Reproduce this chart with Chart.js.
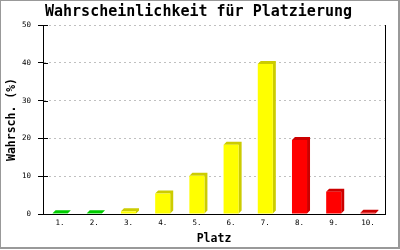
<!DOCTYPE html>
<html>
<head>
<meta charset="utf-8">
<script src="https://cdn.jsdelivr.net/npm/chart.js@4/dist/chart.umd.min.js"></script>
<style>
html,body{margin:0;padding:0;background:#fff;overflow:hidden;}
canvas{display:block;}
</style>
</head>
<body>
<canvas id="c" width="400" height="250"></canvas>
<script>
const categories = ["1.", "2.", "3.", "4.", "5.", "6.", "7.", "8.", "9.", "10."];
const probabilities = [0.2, 0.2, 0.7, 5.4, 10.1, 18.3, 39.7, 19.6, 5.9, 0.3];
const yTicks = [0, 10, 20, 30, 40, 50];
const groups = ["green", "green", "yellow", "yellow", "yellow", "yellow", "yellow", "red", "red", "red"];

const FRONT = {green: "#00ff00", yellow: "#ffff00", red: "#ff0000"};
const SIDE = {green: "#00cc00", yellow: "#cccc00", red: "#cc0000"};
const MONO = "'DejaVu Sans Mono', 'Liberation Mono', monospace";

const bar3d = {
  id: 'bar3d',
  beforeDatasetsDraw(chart) {
    const ctx = chart.ctx;
    const meta = chart.getDatasetMeta(0);
    const d = 3;
    ctx.save();
    meta.data.forEach((bar, i) => {
      const p = bar.getProps(['x', 'y', 'base', 'width'], true);
      const l = p.x - p.width / 2, r = p.x + p.width / 2;
      ctx.fillStyle = SIDE[groups[i]];
      ctx.beginPath();
      ctx.moveTo(l, p.y);
      ctx.lineTo(l + d, p.y - d);
      ctx.lineTo(r + d, p.y - d);
      ctx.lineTo(r + d, p.base - d);
      ctx.lineTo(r, p.base);
      ctx.lineTo(r, p.y);
      ctx.closePath();
      ctx.fill();
    });
    ctx.restore();
  },
  afterDraw(chart) {
    const ctx = chart.ctx;
    const a = chart.chartArea;
    const ys = chart.scales.y;
    ctx.save();
    ctx.strokeStyle = '#000';
    ctx.lineWidth = 1;
    ctx.beginPath();
    ctx.moveTo(Math.round(a.right) + 0.5, a.top);
    ctx.lineTo(Math.round(a.right) + 0.5, a.bottom);
    yTicks.forEach(v => {
      const yy = Math.round(ys.getPixelForValue(v)) + 0.5;
      ctx.moveTo(a.left, yy);
      ctx.lineTo(a.left + 5, yy);
    });
    ctx.stroke();
    ctx.strokeStyle = '#999';
    ctx.lineWidth = 1;
    ctx.strokeRect(0.5, 0.5, 398, 247);
    ctx.beginPath();
    ctx.moveTo(399.5, 0); ctx.lineTo(399.5, 249);
    ctx.moveTo(0, 248.5); ctx.lineTo(400, 248.5);
    ctx.stroke();
    ctx.restore();
  }
};

new Chart(document.getElementById('c'), {
  type: 'bar',
  data: {
    labels: categories,
    datasets: [{
      data: probabilities,
      backgroundColor: groups.map(g => FRONT[g]),
      borderWidth: 0,
      categoryPercentage: 1,
      barPercentage: 0.44
    }]
  },
  options: {
    responsive: false,
    animation: false,
    devicePixelRatio: 1,
    layout: {padding: {left: 0, right: 3, top: 0, bottom: 0}},
    plugins: {
      legend: {display: false},
      tooltip: {enabled: false},
      title: {
        display: true,
        text: 'Wahrscheinlichkeit für Platzierung',
        color: '#000',
        font: {family: MONO, size: 15, weight: 'bold', lineHeight: 1.2},
        padding: {top: 3, bottom: 4}
      }
    },
    scales: {
      x: {
        grid: {display: false, drawTicks: false},
        border: {display: true, color: '#000', width: 1},
        ticks: {color: '#000', font: {family: MONO, size: 7.5}, padding: 5, maxRotation: 0, autoSkip: false},
        title: {
          display: true, text: 'Platz', color: '#000',
          font: {family: MONO, size: 11.5, weight: 'bold', lineHeight: 1.2},
          padding: {top: 0, bottom: 4}
        },
        afterFit(s) { s.height = 36; }
      },
      y: {
        min: 0, max: 50,
        afterBuildTicks(s) { s.ticks = yTicks.map(v => ({value: v})); },
        grid: {color: '#c0c0c0', lineWidth: 1, tickLength: 5, tickColor: '#000', tickBorderDash: []},
        border: {display: true, color: '#000', width: 1, dash: [2, 3]},
        ticks: {color: '#000', font: {family: MONO, size: 7.5}, padding: 7},
        title: {
          display: true, text: 'Wahrsch. (%)', color: '#000',
          font: {family: MONO, size: 11.5, weight: 'bold', lineHeight: 1.2},
          padding: {top: 5, bottom: 0}
        },
        afterFit(s) { s.width = 43; }
      },
      yRight: {
        position: 'right',
        min: 0, max: 50,
        grid: {display: false, drawTicks: false},
        border: {display: false},
        ticks: {display: false},
        afterFit(s) { s.width = 12; }
      }
    }
  },
  plugins: [bar3d]
});
</script>
</body>
</html>
